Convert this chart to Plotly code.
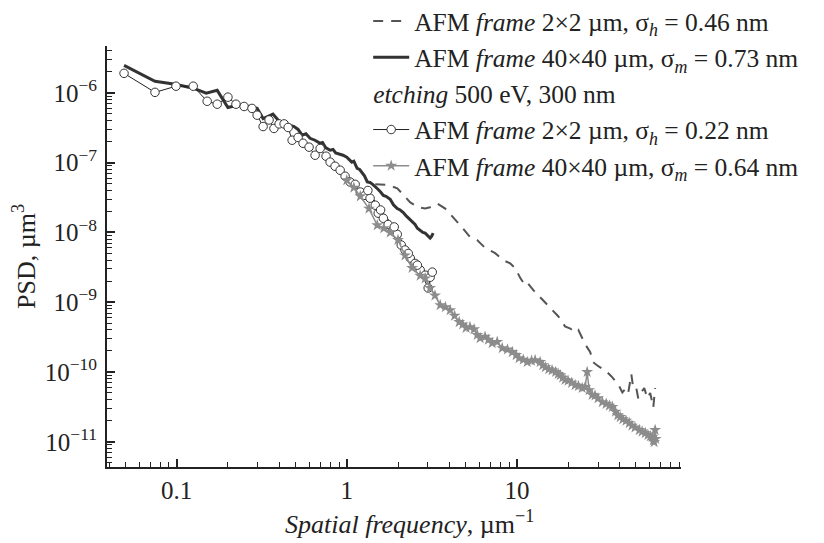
import plotly.graph_objects as go

# ---------------- data ----------------
# AFM frame 40x40 um, sigma_m = 0.73 nm (solid black)
solid_x = [0.049, 0.0745, 0.098, 0.125, 0.149, 0.173, 0.2, 0.23, 0.265, 0.297,
           0.322, 0.368, 0.405, 0.435, 0.464, 0.49, 0.517, 0.546, 0.575, 0.608,
           0.65, 0.697, 0.72, 0.75, 0.798, 0.83, 0.86, 0.914, 0.95, 1.0,
           1.04, 1.07, 1.1, 1.15, 1.19, 1.23, 1.27, 1.32, 1.37, 1.42,
           1.47, 1.52, 1.58, 1.64, 1.7, 1.8, 1.88, 1.98, 2.06, 2.14,
           2.25, 2.36, 2.45, 2.52, 2.6, 2.7, 2.8, 2.89, 3.0, 3.09, 3.15, 3.22]
solid_y = [2.49e-6, 1.47e-6, 1.33e-6, 1.17e-6, 9.9e-7, 1.09e-6, 6.2e-7, 6.7e-7, 6.4e-7, 6.0e-7,
           4.3e-7, 4.96e-7, 3.8e-7, 3.6e-7, 3.44e-7, 3.3e-7, 3.0e-7, 2.48e-7, 2.6e-7, 2.24e-7,
           2.1e-7, 1.9e-7, 1.95e-7, 1.65e-7, 1.51e-7, 1.55e-7, 1.38e-7, 1.32e-7, 1.28e-7, 1.2e-7,
           1.1e-7, 1.02e-7, 1.05e-7, 8.3e-8, 8.0e-8, 7.3e-8, 6.5e-8, 5.3e-8, 5.2e-8, 4.9e-8,
           4.6e-8, 4.2e-8, 3.8e-8, 3.4e-8, 3.3e-8, 3.0e-8, 2.5e-8, 2.2e-8, 2.1e-8, 1.95e-8,
           1.7e-8, 1.5e-8, 1.4e-8, 1.3e-8, 1.15e-8, 1.08e-8, 1.0e-8, 9.8e-9, 9.0e-9, 8.3e-9, 8.8e-9, 9.8e-9]

# AFM frame 2x2 um, sigma_h = 0.46 nm (dashed)
dash_x = [1.47, 1.75, 1.98, 2.2, 2.36, 2.63, 2.89, 3.09, 3.4, 3.79,
          4.22, 4.64, 5.31, 5.84, 6.51, 7.45, 8.3, 9.14, 9.77, 10.5,
          11.2, 11.6, 12.5, 13.5, 14.7, 15.7, 17.5, 19.2, 20.6, 22.0,
          23.0, 25.2, 27.0, 28.1, 30.1, 33.0, 35.9, 39.4, 41.7, 44.0,
          45.2, 47.1, 48.3, 50.3, 51.7, 53.8, 56.1, 58.5, 60.8, 63.4, 65.0]
dash_y = [4.9e-8, 4.8e-8, 4.3e-8, 3.3e-8, 2.7e-8, 2.3e-8, 2.2e-8, 2.3e-8, 2.6e-8, 2.2e-8,
          1.66e-8, 1.27e-8, 8.6e-9, 7.8e-9, 6.0e-9, 5.05e-9, 4.0e-9, 3.6e-9, 3.1e-9, 2.2e-9,
          1.75e-9, 1.87e-9, 1.49e-9, 1.22e-9, 1.0e-9, 8.2e-10, 6.3e-10, 4.5e-10, 4.2e-10, 3.7e-10,
          4.0e-10, 2.5e-10, 1.92e-10, 1.38e-10, 1.21e-10, 1.06e-10, 8.7e-11, 6.7e-11, 5.1e-11, 5.9e-11,
          5.1e-11, 9.3e-11, 5.9e-11, 6.0e-11, 4.2e-11, 5.1e-11, 5.9e-11, 4.2e-11, 5.0e-11, 3.1e-11, 5.9e-11]

# etching: AFM frame 2x2 um, sigma_h = 0.22 nm (open circles)
circ_x = [0.049, 0.0745, 0.099, 0.125, 0.151, 0.173, 0.2, 0.223, 0.249, 0.277,
          0.297, 0.322, 0.349, 0.373, 0.4, 0.428, 0.452, 0.477, 0.517, 0.553,
          0.6, 0.651, 0.697, 0.755, 0.798, 0.853, 0.914, 0.977, 1.045, 1.12,
          1.2, 1.28, 1.37, 1.47, 1.53, 1.64, 1.75, 1.87, 1.98, 2.09,
          2.2, 2.36, 2.52, 2.7, 2.89, 3.09, 3.18, 3.01, 2.6, 2.3, 1.9, 1.58, 1.33]
circ_y = [1.91e-6, 1.02e-6, 1.25e-6, 1.25e-6, 7.6e-7, 6.9e-7, 8.7e-7, 6.9e-7, 6.4e-7, 6.0e-7,
          4.8e-7, 3.3e-7, 4.1e-7, 3.1e-7, 3.6e-7, 3.6e-7, 3.2e-7, 2.1e-7, 2.3e-7, 1.9e-7,
          1.67e-7, 1.28e-7, 1.6e-7, 1.24e-7, 1.02e-7, 8.9e-8, 7.8e-8, 6.4e-8, 5.3e-8, 4.9e-8,
          3.8e-8, 3.4e-8, 3.1e-8, 2.46e-8, 1.89e-8, 1.6e-8, 1.3e-8, 1.08e-8, 9.4e-9, 6.6e-9,
          5.6e-9, 4.3e-9, 3.6e-9, 2.9e-9, 2.44e-9, 2.28e-9, 2.7e-9, 1.6e-9, 3.4e-9, 5.0e-9, 1.2e-8, 2.1e-8, 4.0e-8]

# etching: AFM frame 40x40 um, sigma_m = 0.64 nm (stars)
star_x = [1.0, 1.1, 1.2, 1.35, 1.51, 1.65, 1.8, 2.0, 2.2, 2.42,
          2.7, 2.89, 3.09, 3.3, 3.54, 3.8, 4.05, 4.3, 4.58, 4.8,
          5.03, 5.3, 5.6, 5.85, 6.08, 6.5, 6.8, 7.16, 7.66, 8.2,
          8.8, 9.4, 9.9, 10.3, 10.9, 11.5, 12.2, 12.8, 13.7, 14.2,
          14.7, 15.4, 16.1, 16.9, 17.5, 18.0, 18.6, 19.2, 20.0, 21.0,
          22.0, 23.0, 24.2, 25.2, 25.9, 26.6, 27.7, 28.8, 30.0, 31.8,
          33.5, 35.0, 36.4, 38.0, 39.2, 40.5, 42.0, 43.8, 45.8, 47.5,
          49.5, 52.5, 54.5, 56.9, 59.0, 61.0, 62.5, 63.5, 64.1, 65.0, 65.5]
star_y = [5.6e-8, 4.4e-8, 3.3e-8, 2.2e-8, 1.27e-8, 1.15e-8, 1.0e-8, 7.8e-9, 4.7e-9, 3.1e-9,
          2.4e-9, 2.2e-9, 1.6e-9, 1.25e-9, 9.1e-10, 8.5e-10, 7.7e-10, 6.4e-10, 5.2e-10, 4.8e-10,
          4.3e-10, 4.4e-10, 4.1e-10, 3.4e-10, 3.06e-10, 3.2e-10, 2.9e-10, 2.6e-10, 2.7e-10, 2.2e-10,
          2.1e-10, 1.93e-10, 1.75e-10, 1.58e-10, 1.5e-10, 1.39e-10, 1.45e-10, 1.48e-10, 1.39e-10, 1.25e-10,
          1.17e-10, 1.1e-10, 1.06e-10, 1.0e-10, 9.4e-11, 9.0e-11, 8.3e-11, 7.7e-11, 7.5e-11, 7.0e-11,
          6.5e-11, 6.3e-11, 5.9e-11, 6.1e-11, 1.0e-10, 5.5e-11, 4.7e-11, 4.6e-11, 4.2e-11, 3.7e-11,
          3.5e-11, 3.3e-11, 3.16e-11, 2.7e-11, 2.4e-11, 2.26e-11, 2.1e-11, 2.0e-11, 1.85e-11, 1.7e-11,
          1.6e-11, 1.47e-11, 1.4e-11, 1.33e-11, 1.25e-11, 1.2e-11, 1.17e-11, 1.05e-11, 9.9e-12, 1.47e-11, 1.1e-11]

x_tickvals = [0.1, 1, 10]
x_ticktext = ["0.1", "1", "10"]
y_tickvals = [1e-11, 1e-10, 1e-9, 1e-8, 1e-7, 1e-6]
y_ticktext = ["10<sup>−11</sup>", "10<sup>−10</sup>", "10<sup>−9</sup>",
              "10<sup>−8</sup>", "10<sup>−7</sup>", "10<sup>−6</sup>"]
x_minor = [m * 10 ** e for e in range(-2, 2) for m in range(2, 10)]
y_minor = [m * 10 ** e for e in range(-12, -5) for m in range(2, 10)]

name_dash = "AFM <i>frame</i> 2×2 µm, σ<sub><i>h</i></sub> = 0.46 nm"
name_solid = "AFM <i>frame</i> 40×40 µm, σ<sub><i>m</i></sub> = 0.73 nm"
name_circ = "AFM <i>frame</i> 2×2 µm, σ<sub><i>h</i></sub> = 0.22 nm"
name_star = "AFM <i>frame</i> 40×40 µm, σ<sub><i>m</i></sub> = 0.64 nm"
group_title = "<i>etching</i> 500 eV, 300 nm"
x_title = "<i>Spatial frequency</i>, µm<sup>−1</sup>"
y_title = "PSD, µm<sup>3</sup>"

FONT = "Liberation Serif, Times New Roman, serif"
INK = "#222222"

fig = go.Figure()
fig.add_trace(go.Scatter(x=solid_x, y=solid_y, mode="lines", name=name_solid,
                         legendrank=2, line=dict(color="#333333", width=3)))
fig.add_trace(go.Scatter(x=dash_x, y=dash_y, mode="lines", name=name_dash,
                         legendrank=1, line=dict(color="#555555", width=2, dash="10px,8px")))
fig.add_trace(go.Scatter(x=circ_x, y=circ_y, mode="lines+markers", name=name_circ,
                         legendrank=3, legendgroup="etch",
                         legendgrouptitle=dict(text=group_title),
                         line=dict(color="#222222", width=1),
                         marker=dict(symbol="circle", size=8.5, color="white",
                                     line=dict(color="#333333", width=1))))
fig.add_trace(go.Scatter(x=star_x, y=star_y, mode="lines+markers", name=name_star,
                         legendrank=4, legendgroup="etch",
                         line=dict(color="#8c8c8c", width=1.5),
                         marker=dict(symbol="star", size=9, color="#8c8c8c",
                                     line=dict(width=0))))

axis_common = dict(type="log", showline=True, linewidth=2, linecolor=INK,
                   ticks="inside", ticklen=8, tickwidth=1.5, tickcolor=INK,
                   showgrid=False, zeroline=False, mirror=False,
                   tickfont=dict(family=FONT, size=25, color=INK))

fig.update_xaxes(range=[-1.41, 1.965], tickmode="array", tickvals=x_tickvals, ticktext=x_ticktext,
                 minor=dict(tickmode="array", tickvals=x_minor, ticks="inside", ticklen=5,
                            tickwidth=1.2, tickcolor=INK, showgrid=False),
                 **axis_common)
fig.update_yaxes(range=[-11.362, -5.327], tickmode="array", tickvals=y_tickvals, ticktext=y_ticktext,
                 minor=dict(tickmode="array", tickvals=y_minor, ticks="inside", ticklen=5,
                            tickwidth=1.2, tickcolor=INK, showgrid=False),
                 ticklabelstandoff=3,
                 title=dict(text=y_title, font=dict(family=FONT, size=26, color=INK), standoff=6),
                 **axis_common)

fig.add_annotation(text=x_title, xref="paper", yref="paper", x=0.527, y=-0.133,
                   xanchor="center", yanchor="middle", showarrow=False,
                   font=dict(family=FONT, size=26, color=INK))

fig.update_layout(
    width=816, height=535, autosize=False,
    margin=dict(l=99, r=143, t=38, b=76, autoexpand=False),
    paper_bgcolor="white", plot_bgcolor="white",
    font=dict(family=FONT, size=25, color=INK),
    legend=dict(x=0.455, xanchor="left", y=1.114, yanchor="top",
                bgcolor="rgba(0,0,0,0)", borderwidth=0,
                font=dict(family=FONT, size=25.5, color=INK),
                grouptitlefont=dict(family=FONT, size=25.5, color=INK),
                traceorder="grouped", tracegroupgap=0, itemwidth=36),
    showlegend=True,
)

fig.write_html("out.html")
